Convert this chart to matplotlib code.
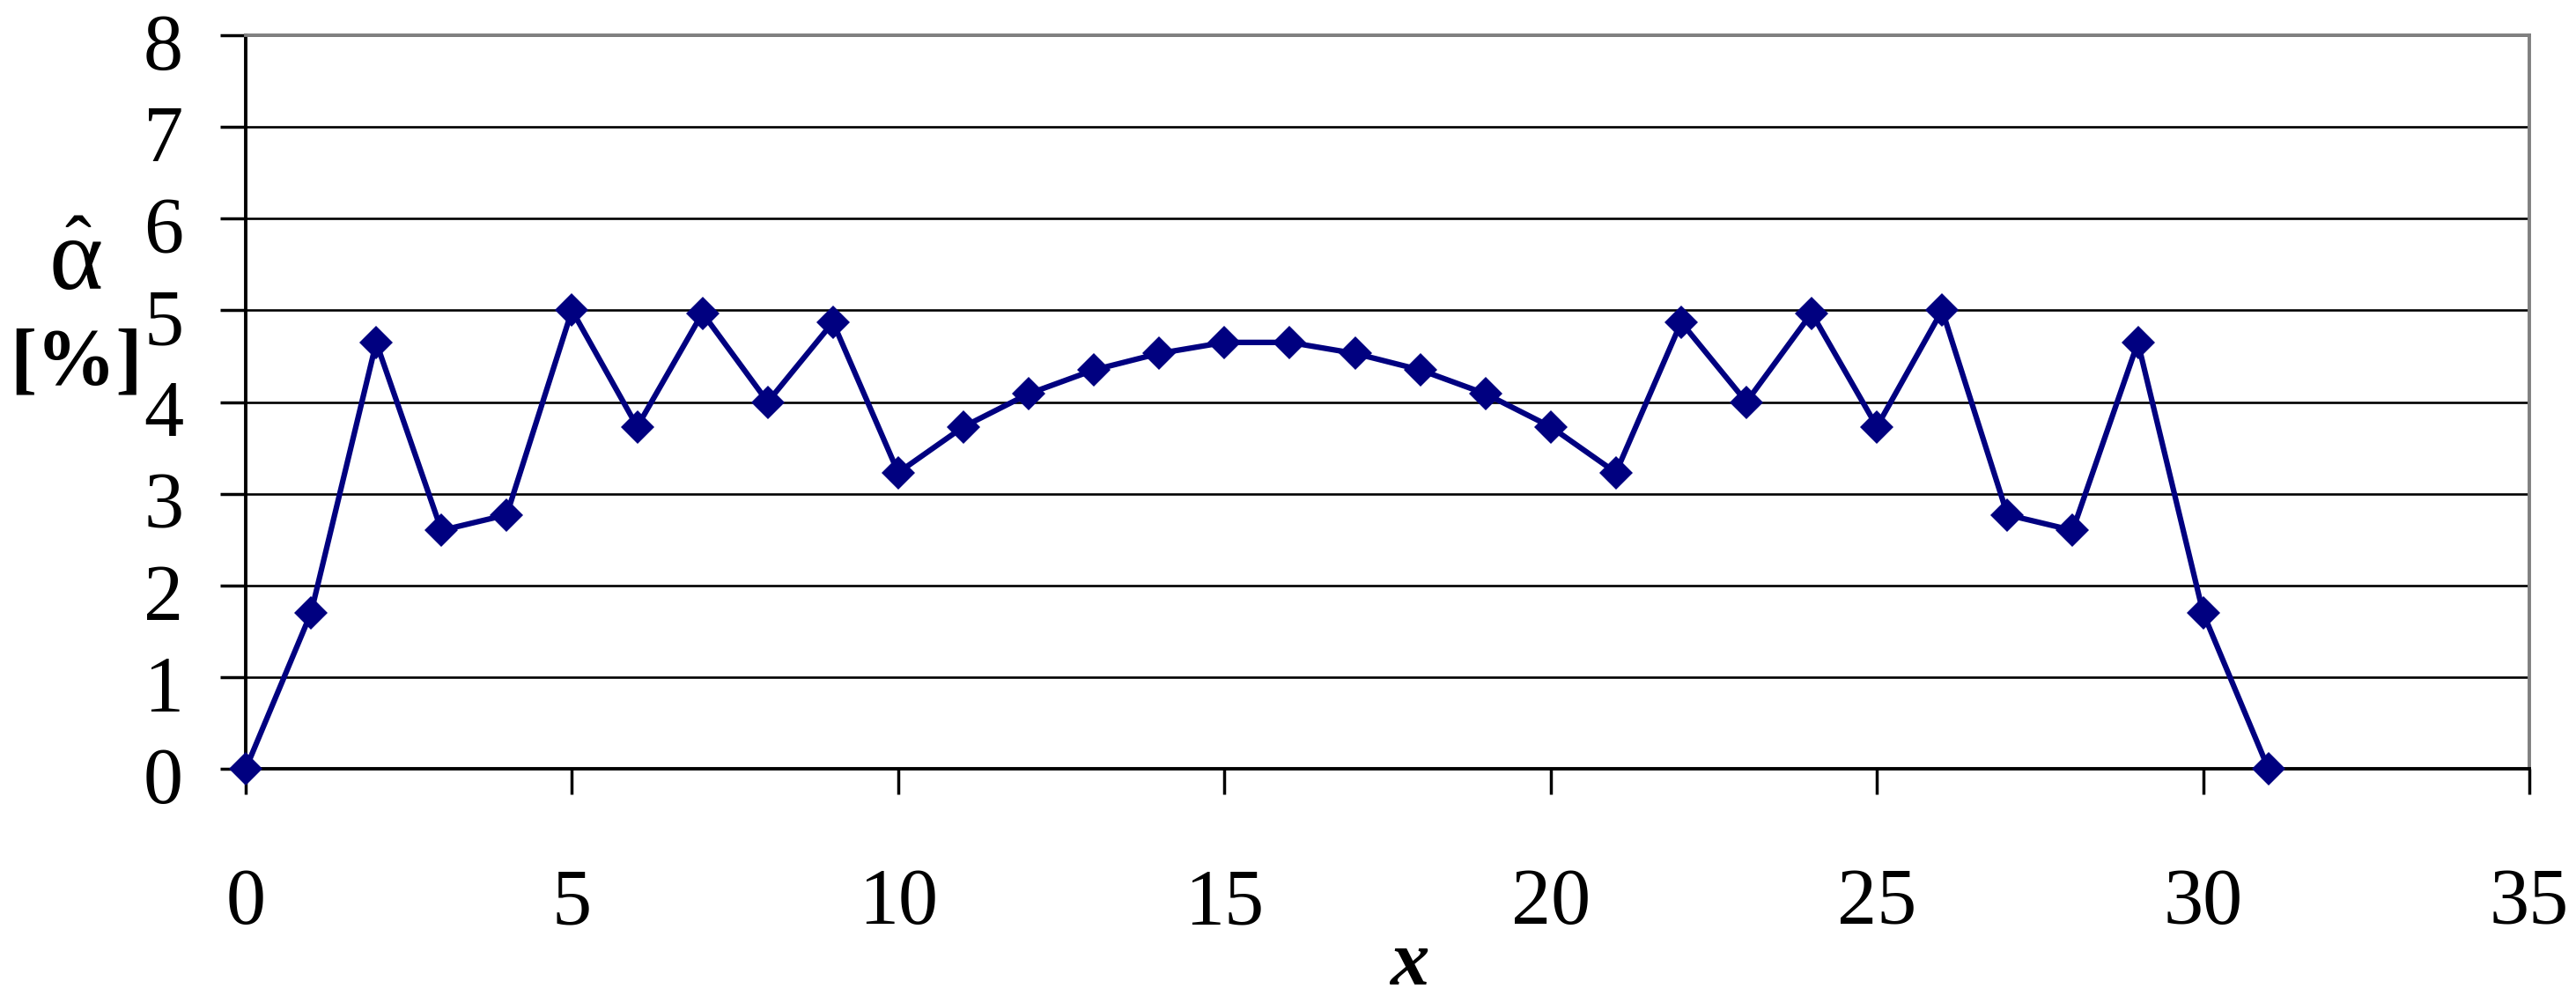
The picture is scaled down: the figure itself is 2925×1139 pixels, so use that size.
import numpy as np
import matplotlib.pyplot as plt
import matplotlib.transforms as mtransforms

plt.rcParams['font.family'] = ['Liberation Serif', 'DejaVu Serif']

# dane: x i estymowane alfa [%]
x_vals = list(range(0, 32))
alpha_vals = [0.00, 1.70, 4.65, 2.60, 2.77, 5.00, 3.73, 4.97, 4.00, 4.87,
              3.23, 3.73, 4.09, 4.35, 4.53, 4.65, 4.65, 4.53, 4.35, 4.09,
              3.73, 3.23, 4.87, 4.00, 4.97, 3.73, 5.00, 2.77, 2.60, 4.65,
              1.70, 0.00]
x_ticks = [0, 5, 10, 15, 20, 25, 30, 35]
y_ticks = [0, 1, 2, 3, 4, 5, 6, 7, 8]

fig = plt.figure(figsize=(29.25, 11.39), dpi=100)
ax = fig.add_axes([0.0954, 0.2335, 0.9819 - 0.0954, 0.9649 - 0.2335])

ax.plot(x_vals, alpha_vals, color='#000080', linewidth=4.5,
        marker='D', markersize=19, markeredgewidth=0, clip_on=False, zorder=5)

ax.set_xlim(0, 35)
ax.set_ylim(0, 8)
ax.set_xticks(x_ticks)
ax.set_yticks(y_ticks)
ax.yaxis.grid(True, color='black', linewidth=1.9)
ax.set_axisbelow(True)

ax.tick_params(axis='both', direction='out', length=21, width=2.5,
               labelsize=65, color='black')
ax.tick_params(axis='x', pad=60)
ax.tick_params(axis='y', pad=30)

# etykiety osi y lekko w dół, jak w oryginale
offset = mtransforms.ScaledTranslation(0, -7 / 100, fig.dpi_scale_trans)
for lab in ax.get_yticklabels():
    lab.set_transform(lab.get_transform() + offset)

for s in ['left', 'bottom']:
    ax.spines[s].set_color('black')
    ax.spines[s].set_linewidth(2.8)
for s in ['top', 'right']:
    ax.spines[s].set_color('#808080')
    ax.spines[s].set_linewidth(2.8)

# podpisy osi
fig.text(1600 / 2925, 1 - 1118 / 1139, 'x', fontsize=64, fontweight='bold',
         fontstyle='italic', ha='center', va='baseline')
fig.text(86 / 2925, 1 - 328 / 1139, '\u03b1', fontsize=84,
         ha='center', va='baseline')
fig.text(88 / 2925, 1 - 308 / 1139, '\u02c6', fontsize=65,
         ha='center', va='baseline')
fig.text(87 / 2925, 1 - 413 / 1139, '[%]', fontsize=65, fontweight='bold',
         ha='center', va='center')

fig.savefig('out.png', dpi=100)
